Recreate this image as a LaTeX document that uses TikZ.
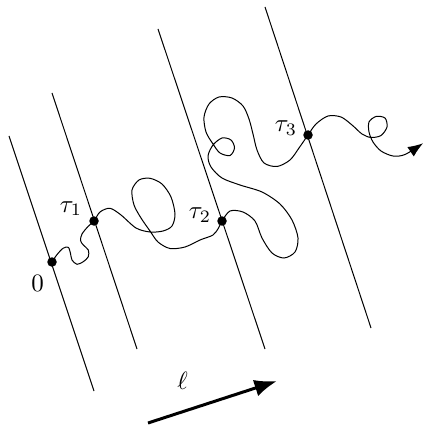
\documentclass[tikz,border=0pt]{standalone}
\usepackage{tikz}
\usetikzlibrary{arrows.meta,positioning}
\tikzset{
  >={Latex[length=6pt,width=4.6pt]},
  dot/.style={circle,fill=black,inner sep=0pt,minimum size=3.8pt},
  level/.style={thin},
  walk/.style={thin,->},
  dirarrow/.style={very thick,-{Latex[length=9pt,width=6.8pt]}},
  lab/.style={inner sep=0pt}
}

\begin{document}
\begin{tikzpicture}[x=0.4pt,y=-0.4pt]
  \useasboundingbox (0,0) rectangle (425,425);
  % parallel lines
  \draw[level] (9,136) -- (94,391);
  \draw[level] (52,93) -- (137,349);
  \draw[level] (158,29) -- (265,349);
  \draw[level] (265,7) -- (371,328);
  % hitting points
  \node[dot] (o) at (52,262) {};
  \node[dot] (t1) at (94,221) {};
  \node[dot] (t2) at (222,221) {};
  \node[dot] (t3) at (308,135) {};
  \coordinate (end) at (423,143.3);
  \node[lab] (lo) at (37.5,283) {$0$};
  \node[lab] (lt1) at (71,208.5) {$\tau_1$};
  \node[lab] (lt2) at (200,215) {$\tau_2$};
  \node[lab] (lt3) at (286,128) {$\tau_3$};
  % the walk
  \draw[walk] plot[smooth] coordinates {(o.center) (56.7,255) (63,248.3) (68.3,247.3) (70.5,253.5) (72,260) (77,264.3) (83.3,261.7) (88.3,256.7) (88.3,250) (83.3,245) (80.5,240.5) (82,234) (88,226.5)
    (t1.center) (100,212) (110,208.3) (121,215) (136,228) (150,232) (163,231) (172,226) (175,214) (171,197) (162,184) (150,178.3) (139,180) (132,190) (134,205) (141,218) (150,231) (158,242) (170,248.5) (185,247) (200,240) (213,235) (218.5,228)
    (t2.center) (230,211) (243,212) (255,221) (262,238) (272,253) (284,258) (295,252) (298,238) (292,220) (280,204) (262,192) (240,185) (222,178) (211,167) (208,156) (213,145) (222,138) (231,140) (234.5,148) (230,155.5) (220,153) (213,144) (206,132) (204,117) (209,104) (219,97) (232,98) (243,106) (249,119) (253,134) (257,150) (264,163) (277,166.5) (290,160) (299,148)
    (t3.center) (316,124) (328,116) (341,117) (352,125) (362,134) (371,137.5) (381,135.5) (387,127) (385,118) (376,116.5) (369,122) (369,132) (373,142) (381,151) (393,156) (405,154.5) (end)};
  % direction of the lines
  \coordinate (ls) at (148,423);
  \coordinate (le) at (277,381);
  \draw[dirarrow] (ls) -- (le);
  \node (ell) at (182.5,381) {$\ell$};
\end{tikzpicture}
\end{document}
